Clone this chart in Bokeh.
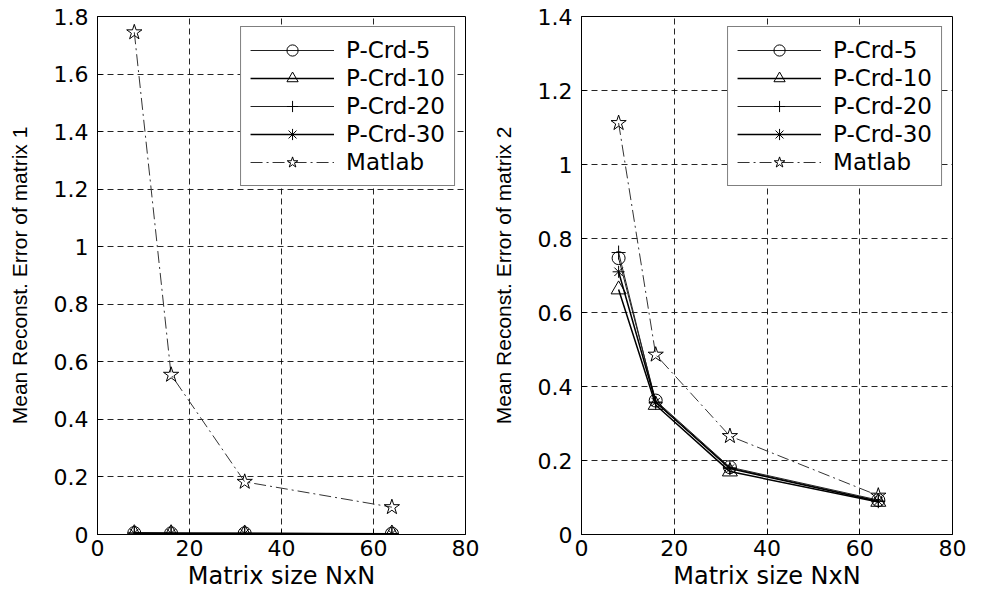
from bokeh.plotting import figure
from bokeh.models import Range1d, FixedTicker
from bokeh.layouts import row
from bokeh.embed import file_html
from bokeh.resources import INLINE

# ---- data ----
sizes = [8, 16, 32, 64]

# matrix 1
m1_pcrd5 = [0.005, 0.004, 0.004, 0.003]
m1_pcrd10 = [0.004, 0.004, 0.003, 0.003]
m1_pcrd20 = [0.005, 0.004, 0.004, 0.003]
m1_pcrd30 = [0.005, 0.004, 0.004, 0.003]
m1_matlab = [1.745, 0.555, 0.183, 0.095]

# matrix 2
m2_pcrd5 = [0.747, 0.362, 0.182, 0.093]
m2_pcrd10 = [0.662, 0.350, 0.170, 0.088]
m2_pcrd20 = [0.762, 0.356, 0.180, 0.090]
m2_pcrd30 = [0.710, 0.358, 0.178, 0.090]
m2_matlab = [1.112, 0.486, 0.266, 0.105]

series_names = ["P-Crd-5", "P-Crd-10", "P-Crd-20", "P-Crd-30", "Matlab"]

x_ticks = [0, 20, 40, 60, 80]
y1_ticks = [0, 0.2, 0.4, 0.6, 0.8, 1, 1.2, 1.4, 1.6, 1.8]
y1_labels = ["0", "0.2", "0.4", "0.6", "0.8", "1", "1.2", "1.4", "1.6", "1.8"]
y2_ticks = [0, 0.2, 0.4, 0.6, 0.8, 1, 1.2, 1.4]
y2_labels = ["0", "0.2", "0.4", "0.6", "0.8", "1", "1.2", "1.4"]

x_label = "Matrix size NxN"
y1_label = "Mean Reconst. Error of matrix 1"
y2_label = "Mean Reconst. Error of matrix 2"

# ---- styles ----
styles = [
    dict(marker="circle", line_dash="solid", lw=1.0, color="#222222", size=13),
    dict(marker="triangle", line_dash="solid", lw=1.5, color="black", size=15),
    dict(marker="cross", line_dash="solid", lw=1.0, color="#222222", size=14),
    dict(marker="asterisk", line_dash="solid", lw=1.5, color="black", size=12),
    dict(marker="star", line_dash="12 4 2 4", lw=1.0, color="#333333", size=16),
]

FONT = "DejaVu Sans"


def make_fig(width, ymax, yticks, ylabels, ylabel, data, min_right):
    p = figure(width=width, height=592, output_backend="svg", toolbar_location=None,
               x_range=Range1d(0, 80), y_range=Range1d(0, ymax),
               min_border_left=97, min_border_right=min_right,
               min_border_top=16, min_border_bottom=52)
    p.background_fill_color = "white"
    p.border_fill_color = "white"
    p.outline_line_color = "black"
    p.outline_line_width = 1

    xa = p.below[0]
    ya = p.left[0]
    xa.ticker = FixedTicker(ticks=x_ticks)
    ya.ticker = FixedTicker(ticks=yticks)
    ya.major_label_overrides = {t: l for t, l in zip(yticks, ylabels)}
    xa.major_label_overrides = {t: str(t) for t in x_ticks}

    for ax in (xa, ya):
        ax.major_tick_in = 5
        ax.major_tick_out = 0
        ax.minor_tick_line_color = None
        ax.axis_line_color = "black"
        ax.major_tick_line_color = "black"
        ax.major_label_text_font = FONT
        ax.major_label_text_font_size = "22px"
        ax.major_label_text_color = "black"
        ax.axis_label_text_color = "black"
        ax.axis_label_text_font_style = "normal"

    xa.axis_label = x_label
    xa.axis_label_text_font = FONT
    xa.axis_label_text_font_size = "24px"
    xa.major_label_standoff = 5
    xa.axis_label_standoff = 3

    ya.axis_label = ylabel
    ya.axis_label_text_font = "Liberation Sans"
    ya.axis_label_text_font_size = "21px"
    ya.major_label_standoff = 9
    ya.axis_label_standoff = 20

    for g in (p.xgrid, p.ygrid):
        g.grid_line_color = "black"
        g.grid_line_dash = "6 4"
        g.grid_line_width = 1
        g.grid_line_alpha = 0.85

    for name, ys, st in zip(series_names, data, styles):
        p.line(sizes, ys, line_color=st["color"], line_width=st["lw"],
               line_dash=st["line_dash"], legend_label=name)
        p.scatter(sizes, ys, marker=st["marker"], size=st["size"],
                  line_color="black", fill_color=None, line_width=1,
                  legend_label=name)

    lg = p.legend[0]
    lg.location = "top_right"
    lg.margin = 10
    lg.padding = 9
    lg.spacing = 0
    lg.glyph_width = 84
    lg.glyph_height = 28
    lg.label_height = 24
    lg.label_standoff = 12
    lg.label_text_font = FONT
    lg.label_text_font_size = "23px"
    lg.label_text_color = "black"
    lg.border_line_color = "black"
    lg.border_line_width = 1
    lg.background_fill_color = "white"
    lg.background_fill_alpha = 1
    return p


p1 = make_fig(484, 1.8, y1_ticks, y1_labels, y1_label,
              [m1_pcrd5, m1_pcrd10, m1_pcrd20, m1_pcrd30, m1_matlab], 19)
p2 = make_fig(493, 1.4, y2_ticks, y2_labels, y2_label,
              [m2_pcrd5, m2_pcrd10, m2_pcrd20, m2_pcrd30, m2_matlab], 25)

layout = row(p1, p2)
open("out.html", "w").write(file_html(layout, INLINE))
